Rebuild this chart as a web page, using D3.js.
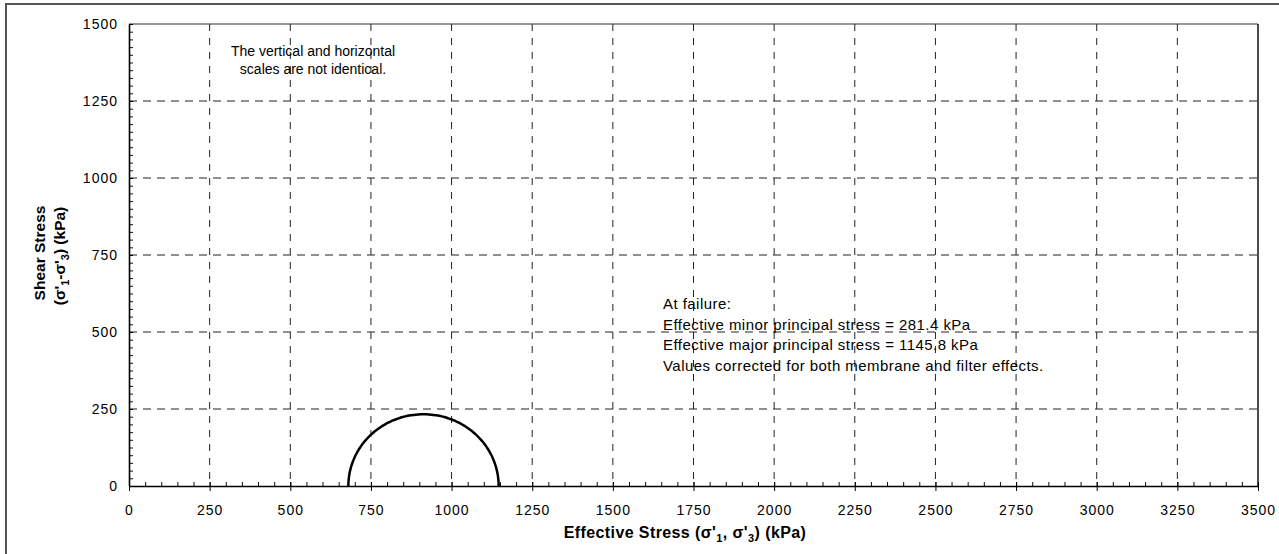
<!DOCTYPE html>
<html>
<head>
<meta charset="utf-8">
<script src="https://cdn.jsdelivr.net/npm/d3@7"></script>
<style>
  body { margin: 0; background: #fff; }
  text { font-family: Arial, "Liberation Sans", sans-serif; fill: #000; }
</style>
</head>
<body>
<div id="chart"></div>
<script>
// tick values on both axes
var xTicks = [0, 250, 500, 750, 1000, 1250, 1500, 1750, 2000, 2250, 2500, 2750, 3000, 3250, 3500];
var yTicks = [0, 250, 500, 750, 1000, 1250, 1500];
// Mohr circle at failure, ends (kPa)
var circleMinor = [680];
var circleMajor = [1146];
// text boxes
var noteLines = ["The vertical and horizontal", "scales are not identical."];
var failureLines = [
  "At failure:",
  "Effective minor principal stress = 281.4 kPa",
  "Effective major principal  stress = 1145.8 kPa",
  "Values corrected for both membrane and filter effects."
];

var W = 1279, H = 554;
var margin = {top: 24, right: 21, bottom: 68, left: 129},
    width = W - margin.left - margin.right,
    height = H - margin.top - margin.bottom;

var root = d3.select("#chart")
  .append("svg")
    .attr("width", W)
    .attr("height", H);

// outer frame, runs off the right/bottom of the picture
root.append("rect")
  .attr("x", 6).attr("y", 4)
  .attr("width", W + 10).attr("height", H + 10)
  .attr("fill", "none")
  .attr("stroke", "#555")
  .attr("stroke-width", 2);

var svg = root.append("g")
  .attr("transform", "translate(" + margin.left + "," + margin.top + ")");

var x = d3.scaleLinear().domain([0, 3500]).range([0, width]);
var y = d3.scaleLinear().domain([0, 1500]).range([height, 0]);

// dashed grid
svg.selectAll(".vgrid")
  .data(xTicks.filter(function(d) { return d > 0 && d < 3500; }))
  .enter().append("line")
    .attr("x1", function(d) { return x(d); })
    .attr("x2", function(d) { return x(d); })
    .attr("y1", 0).attr("y2", height)
    .attr("stroke", "#222")
    .attr("stroke-width", 1)
    .attr("stroke-dasharray", "7,7");
svg.selectAll(".hgrid")
  .data(yTicks.filter(function(d) { return d > 0 && d < 1500; }))
  .enter().append("line")
    .attr("x1", 0).attr("x2", width)
    .attr("y1", function(d) { return y(d); })
    .attr("y2", function(d) { return y(d); })
    .attr("stroke", "#222")
    .attr("stroke-width", 1)
    .attr("stroke-dasharray", "8,6");

// plot box top and right
svg.append("line")
  .attr("x1", 0).attr("x2", width).attr("y1", 0).attr("y2", 0)
  .attr("stroke", "#333").attr("stroke-width", 1.2);
svg.append("line")
  .attr("x1", width).attr("x2", width).attr("y1", 0).attr("y2", height)
  .attr("stroke", "#111").attr("stroke-width", 1.5);

// minor ticks, pointing inward
var xMinor = d3.range(0, 3501, 50);
var yMinor = d3.range(0, 1501, 25);
svg.append("g")
  .attr("transform", "translate(0," + height + ")")
  .call(d3.axisTop(x).tickValues(xMinor).tickSize(4).tickFormat(""))
  .call(function(g) { g.select(".domain").remove(); })
  .selectAll("line").attr("stroke", "#111");
svg.append("g")
  .call(d3.axisRight(y).tickValues(yMinor).tickSize(4).tickFormat(""))
  .call(function(g) { g.select(".domain").remove(); })
  .selectAll("line").attr("stroke", "#111");

// X axis
var gx = svg.append("g")
  .attr("transform", "translate(0," + height + ")")
  .call(d3.axisBottom(x).tickValues(xTicks).tickFormat(d3.format("d"))
    .tickSizeInner(5).tickSizeOuter(0).tickPadding(14));
gx.select(".domain").attr("stroke", "#000").attr("stroke-width", 1.6);
gx.selectAll(".tick line").attr("stroke", "#000").attr("y1", -4);
gx.selectAll("text")
  .style("font-size", "14px")
  .style("letter-spacing", "1px")
  .attr("fill", "#000");

// Y axis
var gy = svg.append("g")
  .call(d3.axisLeft(y).tickValues(yTicks).tickFormat(d3.format("d"))
    .tickSizeInner(6).tickSizeOuter(0).tickPadding(5));
gy.select(".domain").attr("stroke", "#000").attr("stroke-width", 1.6);
gy.selectAll(".tick line").attr("stroke", "#000").attr("x2", 4);
gy.selectAll("text")
  .style("font-size", "14px")
  .style("letter-spacing", "1px")
  .attr("fill", "#000");

// Mohr semicircle
var c = (circleMinor[0] + circleMajor[0]) / 2,
    r = (circleMajor[0] - circleMinor[0]) / 2;
var angles = d3.range(0, 181, 2);
var arcLine = d3.line()
  .x(function(a) { return x(c - r * Math.cos(a * Math.PI / 180)); })
  .y(function(a) { return y(r * Math.sin(a * Math.PI / 180)); })
  .curve(d3.curveBasis);
svg.append("path")
  .datum(angles)
  .attr("d", arcLine)
  .attr("fill", "none")
  .attr("stroke", "#000")
  .attr("stroke-width", 2.5);

// notes
root.append("text")
  .attr("text-anchor", "middle")
  .style("font-size", "14px")
  .selectAll("tspan")
  .data(noteLines)
  .enter().append("tspan")
    .attr("x", 313)
    .attr("y", function(d, i) { return 56 + i * 18; })
    .text(function(d) { return d; });

root.append("text")
  .style("font-size", "15px")
  .style("letter-spacing", "0.45px")
  .selectAll("tspan")
  .data(failureLines)
  .enter().append("tspan")
    .attr("x", 663)
    .attr("y", function(d, i) { return 309 + i * 20.7; })
    .text(function(d) { return d; });

// axis titles
var xt = root.append("text")
  .attr("x", 685).attr("y", 538)
  .attr("text-anchor", "middle")
  .style("font-size", "16px")
  .style("letter-spacing", "0.4px")
  .style("font-weight", "bold");
xt.append("tspan").text("Effective Stress (σ'");
xt.append("tspan").attr("dy", 4).style("font-size", "11px").text("1");
xt.append("tspan").attr("dy", -4).text(", σ'");
xt.append("tspan").attr("dy", 4).style("font-size", "11px").text("3");
xt.append("tspan").attr("dy", -4).text(") (kPa)");

root.append("text")
  .attr("transform", "translate(45,253) rotate(-90)")
  .attr("text-anchor", "middle")
  .style("font-size", "15.5px")
  .style("font-weight", "bold")
  .text("Shear Stress");
var yt = root.append("text")
  .attr("transform", "translate(65,256) rotate(-90)")
  .attr("text-anchor", "middle")
  .style("font-size", "15.5px")
  .style("font-weight", "bold");
yt.append("tspan").text("(σ'");
yt.append("tspan").attr("dy", 4).style("font-size", "11px").text("1");
yt.append("tspan").attr("dy", -4).text("-σ'");
yt.append("tspan").attr("dy", 4).style("font-size", "11px").text("3");
yt.append("tspan").attr("dy", -4).text(")  (kPa)");
</script>
</body>
</html>
